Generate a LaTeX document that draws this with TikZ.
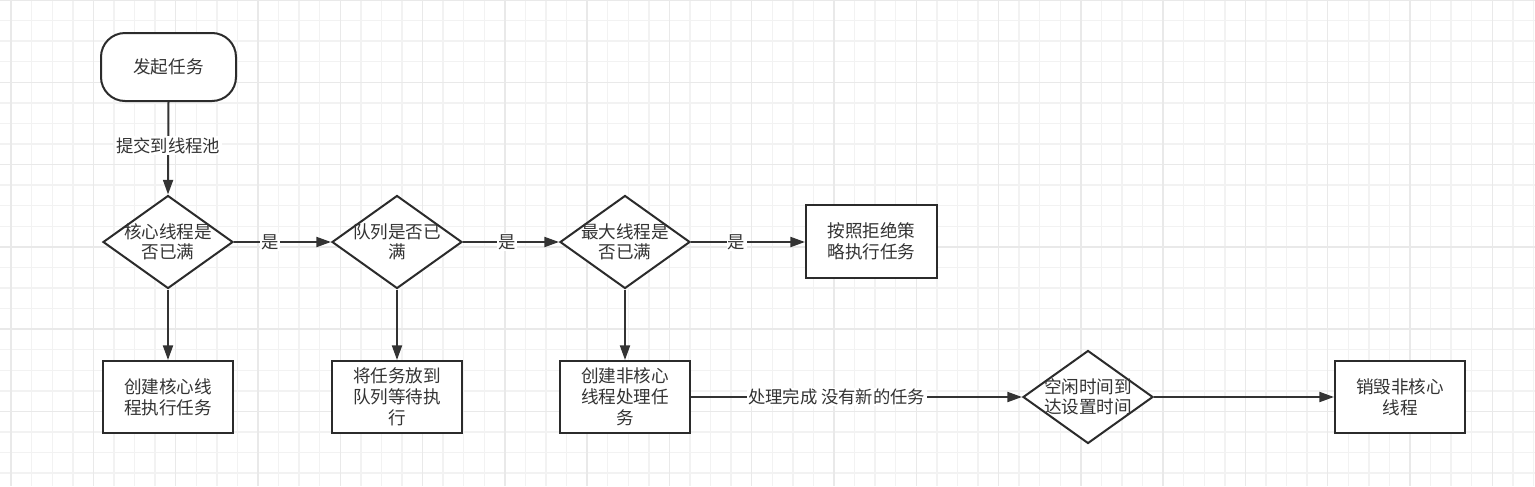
\documentclass[tikz,border=0pt]{standalone}
\usepackage{fontspec}
\setmainfont{Noto Sans CJK SC}
\usetikzlibrary{shapes.geometric,arrows.meta}
\definecolor{ink}{HTML}{333333}
\definecolor{edge}{HTML}{2B2B2B}
\definecolor{gminor}{HTML}{F2F2F2}
\definecolor{gmajor}{HTML}{E9E9E9}
\tikzset{
  base/.style={draw=edge, line width=1.5pt, fill=white, inner sep=0pt, text=ink,
    font=\fontsize{13.2pt}{15.8pt}\selectfont, align=center},
  procbox/.style={base, rectangle, minimum width=97.5pt, minimum height=54pt},
  termbox/.style={base, rectangle, rounded corners=18pt, minimum width=101.25pt, minimum height=51pt},
  decbox/.style={base, diamond, aspect=1.4, minimum width=97.5pt, minimum height=69.75pt},
  dtext/.style={text=ink, inner sep=0pt, font=\fontsize{13.2pt}{15pt}\selectfont, align=center},
  conn/.style={draw=ink, line width=1.5pt, -{Triangle[length=11pt,width=7.5pt]}},
  elabel/.style={fill=white, text=ink, inner sep=1pt, font=\fontsize{13pt}{15pt}\selectfont}
}
\begin{document}
\begin{tikzpicture}[x=0.75pt,y=-0.75pt]
\useasboundingbox (0,0) rectangle (1535,486);
\fill[white] (0,0) rectangle (1535,486);
% grid
\foreach \k in {0,...,74} {
  \pgfmathsetmacro{\gx}{11.1+20.572*\k}
  \draw[gminor, line width=1.1pt] (\gx,0) -- (\gx,486);
}
\foreach \k in {0,...,23} {
  \pgfmathsetmacro{\gy}{20.572*\k}
  \draw[gminor, line width=1.1pt] (0,\gy) -- (1535,\gy);
}
\foreach \k in {0,...,18} {
  \pgfmathsetmacro{\gx}{11.1+82.29*\k}
  \draw[gmajor, line width=1.1pt] (\gx,0) -- (\gx,486);
}
\foreach \k in {0,...,5} {
  \pgfmathsetmacro{\gy}{82.29*\k}
  \draw[gmajor, line width=1.1pt] (0,\gy) -- (1535,\gy);
}
% nodes
\node[termbox] (start) at (168.5,67) {发起任务};
\node[decbox] (d1) at (168,242) {};
\node[dtext] at (d1.center) {核心线程是\\否已满};
\node[decbox] (d2) at (397,242) {};
\node[dtext] at (d2.center) {队列是否已\\满};
\node[decbox] (d3) at (625,242) {};
\node[dtext] at (d3.center) {最大线程是\\否已满};
\node[procbox, minimum width=98.25pt, minimum height=54.75pt] (rej) at (871.5,241.5) {按照拒绝策\\略执行任务};
\node[procbox] (b1) at (168,397) {创建核心线\\程执行任务};
\node[procbox] (b2) at (397,397) {将任务放到\\队列等待执\\行};
\node[procbox] (b3) at (625,397) {创建非核心\\线程处理任\\务};
\node[decbox] (d4) at (1088,397) {};
\node[dtext] at (d4.center) {空闲时间到\\达设置时间};
\node[procbox] (b4) at (1400,397) {销毁非核心\\线程};
% connectors
\draw[conn] (start.south) -- node[elabel, pos=0.47] {提交到线程池} (d1.north);
\draw[conn] (d1.east) -- node[elabel, pos=0.37] {是} (d2.west);
\draw[conn] (d2.east) -- node[elabel, pos=0.46] {是} (d3.west);
\draw[conn] (d3.east) -- node[elabel, pos=0.4] {是} (rej.west |- d3.east);
\draw[conn] (d1.south) -- (b1.north);
\draw[conn] (d2.south) -- (b2.north);
\draw[conn] (d3.south) -- (b3.north);
\draw[conn] (b3.east) -- node[elabel, pos=0.44] {处理完成 没有新的任务} (d4.west);
\draw[conn] (d4.east) -- (b4.west);
\end{tikzpicture}
\end{document}
